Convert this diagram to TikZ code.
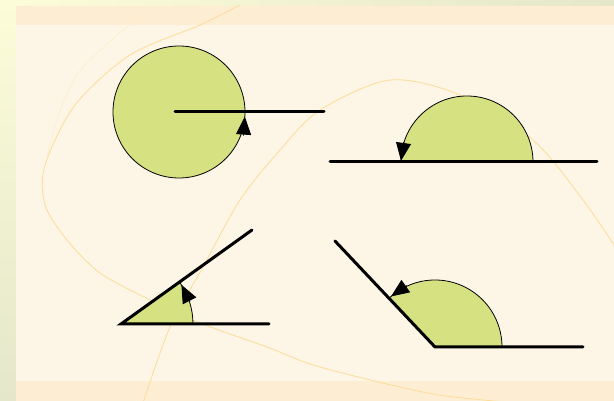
\documentclass[tikz,border=0pt]{standalone}
\usetikzlibrary{arrows.meta}
\definecolor{anggreen}{HTML}{D6E182}
\definecolor{panel}{HTML}{FDF6E6}
\definecolor{band}{HTML}{FDEED3}
\definecolor{swirl}{HTML}{FCDC98}
\definecolor{edgetop}{HTML}{FCFCD8}
\definecolor{edgeend}{HTML}{E4E7CA}
\tikzset{
  arm/.style={line width=3pt,line cap=round},
  rim/.style={line width=0.8pt},
  tipmark/.style={line width=0.8pt,-{Triangle[length=18pt,width=15pt]}},
  swirlline/.style={swirl,line width=0.8pt}
}
\begin{document}
\begin{tikzpicture}[x=1pt,y=1pt]
        %% Background
        \useasboundingbox (0,0) rectangle (614,401);
        \shade[top color=edgetop,bottom color=edgeend] (0,0) rectangle (16,401);
        \shade[left color=edgetop,right color=edgeend] (16,395) rectangle (614,401);
        \fill[panel] (16,0) rectangle (614,395);
        \fill[band] (16,376) rectangle (614,395);
        \fill[band] (16,0) rectangle (614,20);
        \begin{scope}
          \clip (16,0) rectangle (614,395);
          \draw[swirlline] plot[smooth] coordinates {(240,396) (200,376) (130,346) (75,296) (45,236) (45,196) (67,161) (100,128) (150,101) (200,78) (267,54) (320,34) (433,7) (520,-2)};
          \draw[swirlline] plot[smooth] coordinates {(143,-2) (170,74) (203,134) (240,201) (280,251) (320,291) (390,321) (460,306) (533,261) (583,201) (616,153)};
          \draw[swirl!50,line width=0.6pt] plot[smooth] coordinates {(47,244) (60,290) (83,334) (147,391)};
        \end{scope}
        %% Full turn
        \coordinate (O1) at (179,289);
        \fill[anggreen] (O1) circle[radius=66];
        \draw[rim] (O1) circle[radius=66];
        \draw[arm] (175,289) -- (324,289);
        \path (O1) ++(356:66) coordinate (T1);
        \draw[tipmark] (T1) ++(266:19) -- (T1);
        %% Straight angle
        \coordinate (O2) at (467,239);
        \fill[anggreen] (O2) ++(0:66) arc[start angle=0,end angle=180,radius=66] -- cycle;
        \draw[rim] (O2) ++(0:66) arc[start angle=0,end angle=180,radius=66];
        \path (O2) ++(179:66) coordinate (T2);
        \draw[tipmark] (T2) ++(82:19) -- (T2);
        \draw[arm] (330,239) -- (597,239);
        %% Acute angle
        \coordinate (O3) at (121,77);
        \fill[anggreen] (O3) -- ++(72,0) arc[start angle=0,end angle=35.7,radius=72] -- cycle;
        \draw[rim] (O3) ++(0:72) arc[start angle=0,end angle=35.7,radius=72];
        \path (O3) ++(33:72) coordinate (T3);
        \draw[tipmark] (T3) ++(-63:19) -- (T3);
        \draw[arm] (269,77) -- (O3) -- (252,171);
        %% Obtuse angle
        \coordinate (O4) at (435,54);
        \fill[anggreen] (O4) -- ++(67,0) arc[start angle=0,end angle=133.3,radius=67] -- cycle;
        \draw[rim] (O4) ++(0:67) arc[start angle=0,end angle=133.3,radius=67];
        \path (O4) ++(131:67) coordinate (T4);
        \draw[tipmark] (T4) ++(35:19) -- (T4);
        \draw[arm] (583,54) -- (O4) -- (335,160);
\end{tikzpicture}
\end{document}
